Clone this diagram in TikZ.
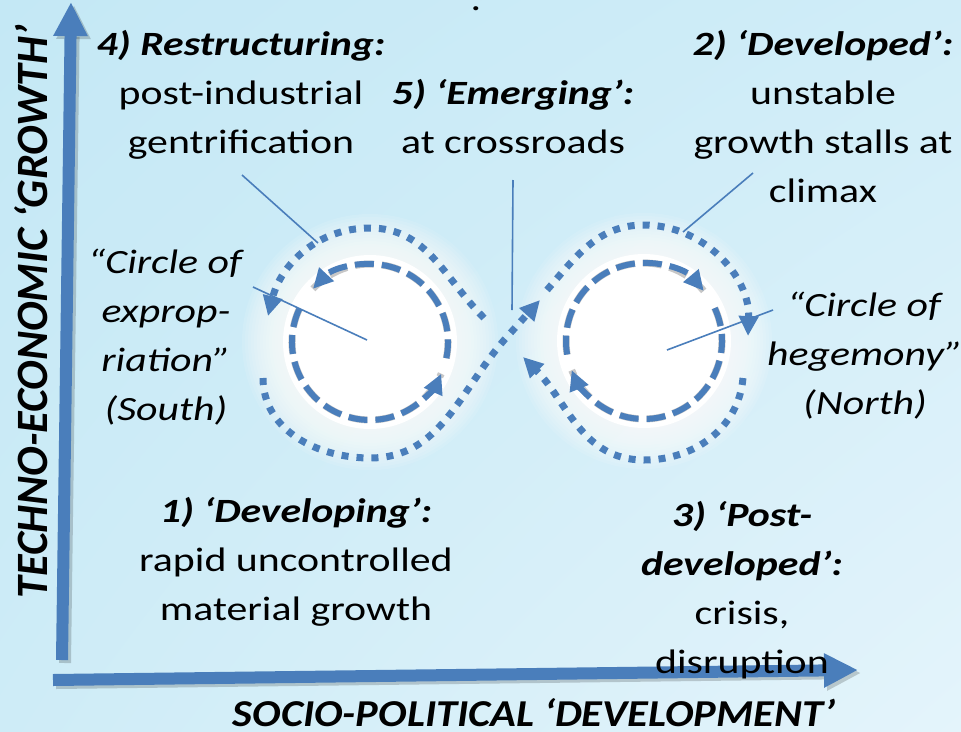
\documentclass[tikz,border=0pt]{standalone}
\usepackage{fontspec}
\setmainfont{Carlito}
\usepackage{graphicx}
\usetikzlibrary{arrows.meta, shadings}

\definecolor{bgtl}{RGB}{196,232,245}
\definecolor{bgtr}{RGB}{208,237,248}
\definecolor{bgbl}{RGB}{206,236,247}
\definecolor{bgbr}{RGB}{228,244,251}
\definecolor{loopblue}{RGB}{74,126,187}

\tikzset{
  lbl/.style={align=center, inner sep=0pt, anchor=base, xscale=1.23,
    font=\fontsize{34}{49}\selectfont},
  dotloop/.style={loopblue, line width=7pt, dash pattern=on 7pt off 8pt},
  dashloop/.style={loopblue, line width=6pt, dash pattern=on 19pt off 8pt},
  looptip/.style={-{Triangle[length=20pt,width=19pt]}},
  loopshadow/.style={black, opacity=0.22, line width=7pt, dash pattern=on 19pt off 8pt},
  pointer/.style={loopblue, line width=1.6pt},
  axis/.style={loopblue, line width=12pt, -{Triangle[length=34pt,width=32pt]}},
  axisshadow/.style={black, opacity=0.18, line width=12pt, -{Triangle[length=34pt,width=32pt]}},
}

\begin{document}
\begin{tikzpicture}[x=1pt, y=-1pt]
% background
\shade[upper left=bgtl, upper right=bgtr, lower left=bgbl, lower right=bgbr]
  (0,0) rectangle (961,731);
\useasboundingbox (0,0) rectangle (961,731);

\coordinate (cl) at (370,342);
\coordinate (cr) at (644,341);

% glowing discs
\foreach \c in {cl,cr}{
  \foreach \r in {128,125,...,89}
    \fill[white, opacity=0.1] (\c) circle[radius=\r];
  \fill[white] (\c) circle[radius=87];
}

% inner circles
\begin{scope}[shift={(2,3)}]
\draw[loopshadow] ([shift={(12:78)}]cl) arc[start angle=12, end angle=-137, radius=78];
\draw[loopshadow] ([shift={(-155:78)}]cl) arc[start angle=-155, end angle=-336, radius=78];
\draw[loopshadow] ([shift={(-25:78)}]cr) arc[start angle=-25, end angle=158, radius=78];
\draw[loopshadow] ([shift={(170:78)}]cr) arc[start angle=170, end angle=320, radius=78];
\end{scope}
\draw[dashloop, looptip] ([shift={(12:78)}]cl) arc[start angle=12, end angle=-137, radius=78];
\draw[dashloop, looptip] ([shift={(-155:78)}]cl) arc[start angle=-155, end angle=-336, radius=78];
\draw[dashloop, looptip] ([shift={(-25:78)}]cr) arc[start angle=-25, end angle=158, radius=78];
\draw[dashloop, looptip] ([shift={(170:78)}]cr) arc[start angle=170, end angle=320, radius=78];

% figure of eight
\coordinate (ltop) at (370,228);
\coordinate (lbot) at (370,458);
\coordinate (rtop) at (644,225);
\coordinate (rbot) at (644,460);
\coordinate (cross) at (505,339);
\coordinate (la) at (484,318);
\coordinate (lb) at (268,316);
\coordinate (lc) at (263,378);
\coordinate (ld) at (540,300);
\coordinate (ra) at (547,290);
\coordinate (rb) at (748,336);
\coordinate (rc) at (743,378);
\coordinate (rd) at (523,357);
\draw[dotloop, looptip] (la) to[out=135,in=0] (ltop) to[out=180,in=76] (lb);
\draw[dotloop, looptip] (lc) to[out=-90,in=180] (lbot) to[out=0,in=229] (cross) -- (ld);
\draw[dotloop, looptip] (ra) to[out=49,in=180] (rtop) to[out=0,in=88] (rb);
\draw[dotloop, looptip] (rc) to[out=265,in=0] (rbot) to[out=180,in=315] (rd);

% axes
\coordinate (yfoot) at (62,660);
\coordinate (yhead) at (71,2);
\coordinate (xfoot) at (53,680);
\coordinate (xhead) at (858,670);
\draw[axisshadow] ([shift={(3,3)}]yfoot) -- ([shift={(3,3)}]yhead);
\draw[axisshadow] ([shift={(3,3)}]xfoot) -- ([shift={(3,3)}]xhead);
\draw[axis] (yfoot) -- (yhead);
\draw[axis] (xfoot) -- (xhead);

% pointers
\coordinate (restr-p) at (242,175);
\coordinate (restr-q) at (318,243);
\coordinate (emerg-p) at (513,180);
\coordinate (emerg-q) at (512,310);
\coordinate (devd-p) at (753,173);
\coordinate (devd-q) at (683,232);
\coordinate (south-p) at (253,287);
\coordinate (north-p) at (773,310);
\coordinate (north-q) at (667,350);
\draw[pointer] (restr-p) -- (restr-q);
\draw[pointer] (emerg-p) -- (emerg-q);
\draw[pointer] (devd-p) -- (devd-q);
\draw[pointer] (south-p) -- ([shift={(-3,-2)}]cl);
\draw[pointer] (north-p) -- (north-q);

% labels (anchored on the last line)
\node[lbl] (dot) at (476,10) {.};
\node[lbl] (restr) at (241,153) {\textbf{\textit{4) Restructuring:}}\\post-industrial\\gentrification};
\node[lbl] (emerg) at (513,153) {\textbf{\textit{5) ‘Emerging’:}}\\at crossroads};
\node[lbl] (devd) at (823,202) {\textbf{\textit{2) ‘Developed’:}}\\unstable\\growth stalls at\\climax};
\node[lbl] (south) at (166,420) {\textit{“Circle of}\\\textit{exprop-}\\\textit{riation”}\\\textit{(South)}};
\node[lbl] (north) at (865,414) {\textit{“Circle of}\\\textit{hegemony”}\\\textit{(North)}};
\node[lbl] (devg) at (296,620) {\textbf{\textit{1) ‘Developing’:}}\\rapid uncontrolled\\material growth};
\node[lbl] (postd) at (742,673) {\textbf{\textit{3) ‘Post-}}\\\textbf{\textit{developed’:}}\\crisis,\\disruption};

\node[anchor=base, inner sep=0pt, rotate=90] (ylabel) at (47,312)
  {\resizebox{573pt}{33pt}{\textbf{\textit{TECHNO-ECONOMIC ‘GROWTH’}}}};
\node[anchor=base, inner sep=0pt] (xlabel) at (534,726)
  {\resizebox{602pt}{28pt}{\textbf{\textit{SOCIO-POLITICAL ‘DEVELOPMENT’}}}};
\end{tikzpicture}
\end{document}
